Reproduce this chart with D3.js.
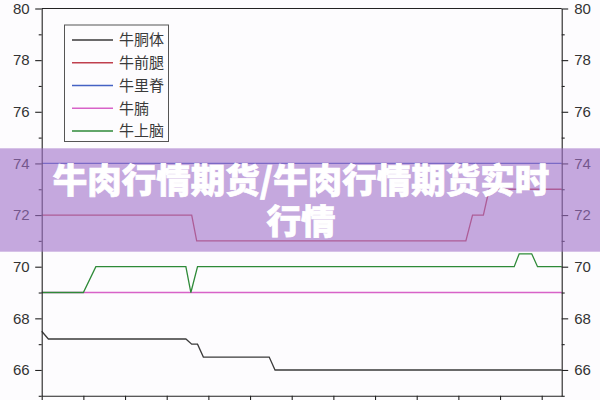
<!DOCTYPE html>
<html>
<head>
<meta charset="utf-8">
<script src="https://cdn.jsdelivr.net/npm/d3@7"></script>
<style>
  html, body { margin: 0; padding: 0; background: #fdfcfe; }
  svg { display: block; }
</style>
</head>
<body>
<svg id="canvas" width="600" height="400"></svg>
<script>
// ---------------------------------------------------------------- //
// Data

var seriesNames = ['牛胴体', '牛前腿', '牛里脊', '牛腩', '牛上脑'];
var seriesColors = ['#3a3a3a', '#c0404e', '#4562c4', '#d862c8', '#2e8a38'];

var carcassX = [0, 0.8, 17.3, 18.0, 18.7, 19.4, 27.3, 28.0, 62.4];
var carcassY = [67.5, 67.2, 67.2, 67.0, 67.0, 66.5, 66.5, 66.0, 66.0];

var foreLegX = [0, 18.0, 18.6, 50.9, 51.7, 53.0, 53.7, 62.4];
var foreLegY = [72, 72, 71, 71, 72, 72, 73, 73];

var loinX = [0, 62.4];
var loinY = [74, 74];

var brisketX = [0, 62.4];
var brisketY = [69, 69];

var chuckX = [0, 5.0, 6.5, 17.3, 17.9, 18.7, 56.7, 57.3, 58.8, 59.5, 62.4];
var chuckY = [69, 69, 70, 70, 69, 70, 70, 70.5, 70.5, 70, 70];

var yMajorTicks = [66, 68, 70, 72, 74, 76, 78, 80];
var yMinorTicks = [65, 67, 69, 71, 73, 75, 77, 79];
var xTicks = [0, 5, 10, 15, 20, 25, 30, 35, 40, 45, 50, 55, 60];

var titleLines = ['牛肉行情期货/牛肉行情期货实时', '行情'];

var seriesX = [carcassX, foreLegX, loinX, brisketX, chuckX];
var seriesY = [carcassY, foreLegY, loinY, brisketY, chuckY];

// ---------------------------------------------------------------- //
// Scales

var svg = d3.select('#canvas');
var plotLeft = 41.7, plotRight = 561.7, plotTop = 8.5, plotBottom = 395.8;

var xScale = d3.scaleLinear().domain([0, 62.4]).range([plotLeft, plotRight]);
var yScale = d3.scaleLinear().domain([65, 80]).range([plotBottom, plotTop]);

var axisFont = '"Liberation Sans", Arial, sans-serif';

// ---------------------------------------------------------------- //
// Lines

var lineGen = d3.line().x(function(d){ return xScale(d[0]); }).y(function(d){ return yScale(d[1]); });

seriesNames.forEach(function(name, i){
  var pts = seriesX[i].map(function(x, j){ return [x, seriesY[i][j]]; });
  svg.append('path').attr('d', lineGen(pts))
    .attr('fill', 'none').attr('stroke', seriesColors[i]).attr('stroke-width', 1.3);
});

// ---------------------------------------------------------------- //
// Axes

function styleAxis(g){
  g.selectAll('path, line').attr('stroke', '#222').attr('stroke-width', 1.1);
  g.selectAll('text').attr('font-family', axisFont).attr('font-size', 15).attr('fill', '#333');
}

var yLeft = svg.append('g').attr('transform', 'translate(' + plotLeft + ',0)')
  .call(d3.axisLeft(yScale).tickValues(yMajorTicks).tickSize(6.5).tickPadding(5.5).tickSizeOuter(0));
yLeft.call(styleAxis);
var yLeftMinor = svg.append('g').attr('transform', 'translate(' + plotLeft + ',0)')
  .call(d3.axisLeft(yScale).tickValues(yMinorTicks).tickSize(3).tickFormat('').tickSizeOuter(0));
yLeftMinor.select('.domain').remove();
yLeftMinor.call(styleAxis);

var yRight = svg.append('g').attr('transform', 'translate(' + plotRight + ',0)')
  .call(d3.axisRight(yScale).tickValues(yMajorTicks).tickSize(6.5).tickPadding(6).tickSizeOuter(0));
yRight.call(styleAxis);
var yRightMinor = svg.append('g').attr('transform', 'translate(' + plotRight + ',0)')
  .call(d3.axisRight(yScale).tickValues(yMinorTicks).tickSize(3).tickFormat('').tickSizeOuter(0));
yRightMinor.select('.domain').remove();
yRightMinor.call(styleAxis);

var xBottom = svg.append('g').attr('transform', 'translate(0,' + plotBottom + ')')
  .call(d3.axisBottom(xScale).tickValues(xTicks).tickSize(6).tickFormat('').tickSizeOuter(0));
xBottom.call(styleAxis);

// top frame line
svg.append('line')
  .attr('x1', plotLeft).attr('x2', plotRight).attr('y1', yScale(80)).attr('y2', yScale(80))
  .attr('stroke', '#222').attr('stroke-width', 1.1);

// ---------------------------------------------------------------- //
// Legend

var legend = svg.append('g');
legend.append('rect').attr('x', 64.5).attr('y', 25).attr('width', 104).attr('height', 116.5)
  .attr('fill', '#fdfcfe').attr('stroke', '#555').attr('stroke-width', 1);
seriesNames.forEach(function(name, i){
  var y = 40 + i * 22.75;
  legend.append('line').attr('x1', 72).attr('x2', 113).attr('y1', y).attr('y2', y)
    .attr('stroke', seriesColors[i]).attr('stroke-width', 1.5);
  legend.append('text').attr('x', 119).attr('y', y).attr('dy', '0.36em')
    .attr('font-family', '"Noto Sans CJK SC", sans-serif').attr('font-size', 15)
    .attr('fill', '#3a3a3a').text(name);
});

// ---------------------------------------------------------------- //
// Title banner

svg.append('rect').attr('x', 0).attr('y', 148.3).attr('width', 600).attr('height', 103.4)
  .attr('fill', 'rgb(160,112,200)').attr('opacity', 0.6);

titleLines.forEach(function(t, i){
  svg.append('text').attr('x', 301).attr('y', 181 + i * 40.5).attr('dy', '0.36em')
    .attr('text-anchor', 'middle')
    .attr('font-family', '"Noto Sans CJK SC", sans-serif').attr('font-weight', 900)
    .attr('font-size', 34.5).attr('fill', '#fff')
    .attr('stroke', '#fff').attr('stroke-width', 0.7).text(t);
});
</script>
</body>
</html>
